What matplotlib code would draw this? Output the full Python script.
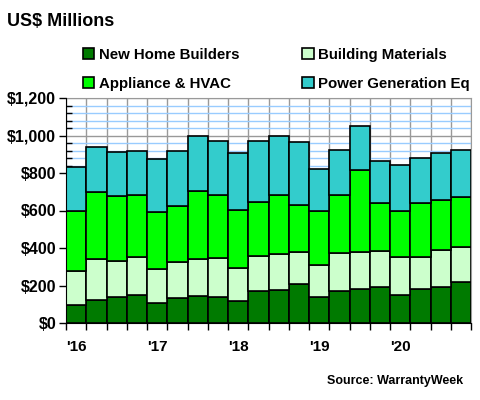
import numpy as np
import matplotlib
matplotlib.use("Agg")
import matplotlib.pyplot as plt
from matplotlib.ticker import MultipleLocator, FuncFormatter

plt.rcParams['font.family'] = ['Liberation Sans', 'DejaVu Sans']
plt.rcParams['font.weight'] = 'bold'

# quarterly warranty claims, 2016 Q1 .. 2020 Q4 (US$ millions)
new_home = [96, 125, 139, 150, 107, 134, 144, 139, 119, 171,
            176, 209, 139, 171, 182, 193, 150, 182, 193, 221]
building = [182, 217, 193, 203, 182, 192, 198, 209, 175, 187,
            193, 171, 171, 203, 198, 192, 203, 171, 197, 185]
appliance = [321, 358, 347, 331, 305, 300, 364, 336, 310, 289,
             315, 251, 289, 310, 438, 257, 246, 289, 268, 268]
power_gen = [235, 241, 235, 232, 279, 290, 289, 289, 305, 326,
             316, 332, 225, 241, 235, 224, 246, 240, 251, 251]
series_names = ["New Home Builders", "Building Materials",
                "Appliance & HVAC", "Power Generation Eq"]
series_colors = ["#007A00", "#CCFFCC", "#00FF00", "#33CCCC"]
year_labels = ["'16", "'17", "'18", "'19", "'20"]

fig = plt.figure(figsize=(4.8, 4.0), dpi=100)
ax = fig.add_axes([66 / 480, 1 - 323 / 400, 405 / 480, 225 / 400])

x = np.arange(len(new_home))
bottom = np.zeros(len(x))
handles = []
for vals, name, col in zip([new_home, building, appliance, power_gen],
                           series_names, series_colors):
    b = ax.bar(x, vals, width=1.0, bottom=bottom, color=col,
               edgecolor='black', linewidth=1.2, label=name, zorder=3)
    handles.append(b)
    bottom += np.array(vals)

ax.set_xlim(-0.5, len(x) - 0.5)
ax.set_ylim(0, 1200)

# y axis
ax.yaxis.set_major_locator(MultipleLocator(200))
ax.yaxis.set_minor_locator(MultipleLocator(40))
ax.yaxis.set_major_formatter(FuncFormatter(lambda v, p: f"${v:,.0f}"))
ax.tick_params(axis='y', which='major', direction='out', length=5,
               width=1, labelsize=11.5, pad=2)
ax.tick_params(axis='y', which='minor', direction='in', length=4, width=1)
ax.grid(axis='y', which='minor', color='#99CCFF', linewidth=1, zorder=0)
ax.grid(axis='y', which='major', color='#999999', linewidth=1, zorder=1)

# x axis: ticks at quarter boundaries, year labels at Q1 bars
ax.set_xticks(np.arange(-0.5, len(x), 1.0))
ax.set_xticklabels([])
ax.grid(axis='x', which='major', color='#999999', linewidth=1, zorder=1)
ax.tick_params(axis='x', which='major', direction='out', length=5, width=1)
ax.set_xticks(np.arange(0, len(x), 4), minor=True)
ax.set_xticklabels(year_labels, minor=True)
ax.tick_params(axis='x', which='minor', length=0, labelsize=11, pad=12)

for s in ['top', 'right']:
    ax.spines[s].set_color('#999999')
for s in ['left', 'bottom']:
    ax.spines[s].set_color('black')
    ax.spines[s].set_zorder(4)

fig.text(7 / 480, 1 - 22 / 400, "US$ Millions", fontsize=13,
         fontweight='bold', va='center', ha='left')

# legend: two rows, entries in reading order
order = [0, 2, 1, 3]
leg = fig.legend([handles[i] for i in order], [series_names[i] for i in order],
                 ncol=2, loc='upper left', bbox_to_anchor=(77 / 480, 1 - 42 / 400),
                 frameon=False, fontsize=10.8, handlelength=0.75,
                 handleheight=0.75, handletextpad=0.3, columnspacing=4.2,
                 labelspacing=1.0, borderaxespad=0)

fig.text(463 / 480, 1 - 381 / 400, "Source: WarrantyWeek", fontsize=9,
         fontweight='bold', ha='right', va='center')

fig.savefig("out.png", dpi=100)
